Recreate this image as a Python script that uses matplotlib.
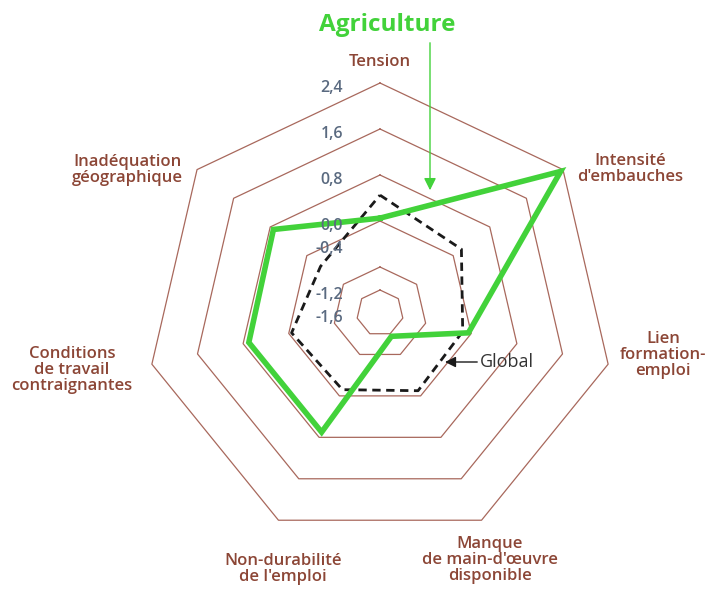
import numpy as np
import matplotlib
matplotlib.use("Agg")
import matplotlib.pyplot as plt

# axes of the radar, clockwise from the top
categories = ["Tension", "Intensité\nd'embauches", "Lien\nformation-\nemploi",
              "Manque\nde main-d'œuvre\ndisponible", "Non-durabilité\nde l'emploi",
              "Conditions\nde travail\ncontraignantes", "Inadéquation\ngéographique"]
agriculture = [0.05, 2.35, -0.05, -1.15, 0.7, 0.7, 0.73]
global_vals = [0.45, 0.18, -0.15, -0.1, -0.12, -0.05, -0.3]

ring_levels = [-1.2, -0.8, 0.0, 0.8, 1.6, 2.4]
tick_values = [2.4, 1.6, 0.8, 0.0, -0.4, -1.2, -1.6]
tick_labels = ["2,4", "1,6", "0,8", "0,0", "-0,4", "-1,2", "-1,6"]
vmin = -1.6

plt.rcParams['font.family'] = ['Open Sans', 'DejaVu Sans']

W, H = 708, 592
cx, cy = 380, 313      # centre of the radar in pixels
sx, sy = 58.5, 57.5    # pixels per unit

fig = plt.figure(figsize=(W / 100, H / 100), dpi=100)
ax = fig.add_axes([0, 0, 1, 1])
ax.set_xlim(-cx / sx, (W - cx) / sx)
ax.set_ylim(-(H - cy) / sy, cy / sy)
ax.axis("off")


def px(x, y):
    return (x - cx) / sx, (cy - y) / sy


n = len(categories)
angles = np.pi / 2 - 2 * np.pi * np.arange(n) / n


def polygon(vals):
    r = np.asarray(vals) - vmin
    x = r * np.cos(angles)
    y = r * np.sin(angles)
    return np.append(x, x[0]), np.append(y, y[0])


ring_col = "#a8685c"
for lev in ring_levels:
    x, y = polygon([lev] * n)
    ax.plot(x, y, color=ring_col, lw=0.9, zorder=1)

x, y = polygon(global_vals)
ax.plot(x, y, color="#1a1a1a", lw=2.0, ls=(0, (3, 2)), zorder=3)

green = "#42d23a"
x, y = polygon(agriculture)
ax.plot(x, y, color=green, lw=4.0, solid_joinstyle="miter", zorder=4)

# scale labels, right aligned left of the vertical axis
for v, lab in zip(tick_values, tick_labels):
    ax.text(-37 / sx, v - vmin - 5 / sy, lab, ha="right", va="center",
            fontsize=11.5, fontweight="semibold", color="#5a6a80", zorder=5)

lab_col = "#8c4636"
label_pos = [(380, 62), (630, 169), (663, 355), (490, 560), (283, 569),
             (72, 370), (127, 170)]
for lab, (lx, ly) in zip(categories, label_pos):
    ax.text(*px(lx, ly), lab, ha="center", va="center", fontsize=12,
            fontweight="semibold", color=lab_col, linespacing=0.98)

ax.text(*px(387, 25), "Agriculture", ha="center", va="center",
        fontsize=17.5, fontweight="bold", color=green)
ax.annotate("", xy=px(430, 193), xytext=px(430, 40),
            arrowprops=dict(arrowstyle="-|>", color=green, lw=1,
                            mutation_scale=18))

ax.annotate("Global", xy=px(445, 362), xytext=px(480, 362),
            ha="left", va="center", fontsize=13, color="#333333",
            arrowprops=dict(arrowstyle="-|>", color="#1a1a1a", lw=1,
                            mutation_scale=16, shrinkA=0, shrinkB=0))

fig.savefig("out.png", dpi=100)
